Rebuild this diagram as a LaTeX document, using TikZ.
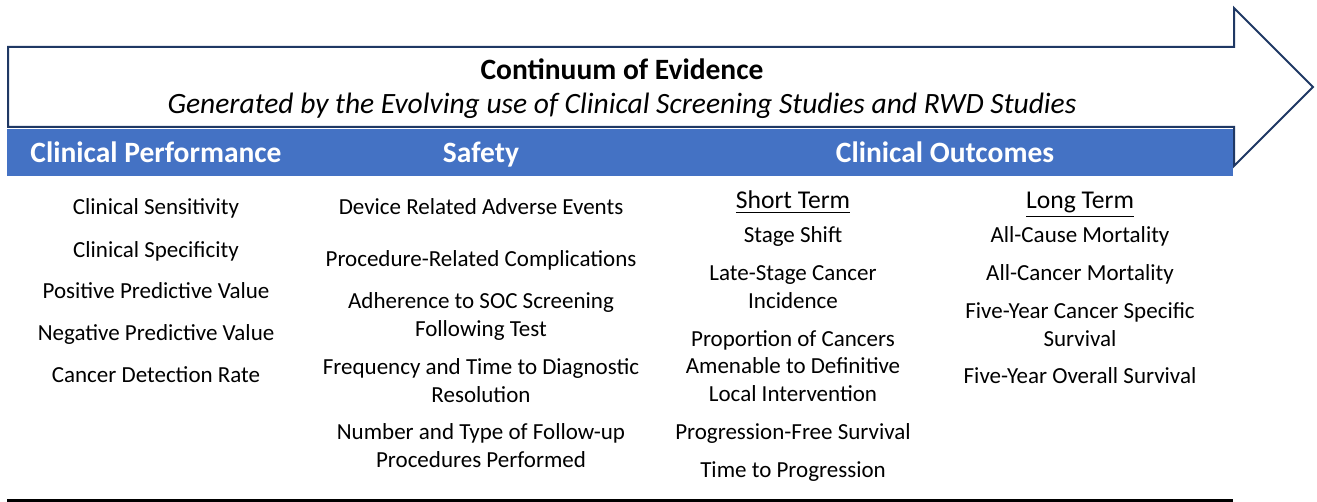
\documentclass[tikz,border=0pt]{standalone}
\usepackage{fontspec}
\setmainfont{Carlito}
\usetikzlibrary{positioning}
\definecolor{barblue}{HTML}{4472C4}
\definecolor{arrowline}{HTML}{1F3864}

\begin{document}
\begin{tikzpicture}[x=0.5pt,y=-0.5pt,
    item/.style={anchor=base,align=center,inner sep=0pt,
                 font=\fontsize{11.5}{13.75}\selectfont},
    term/.style={anchor=base,inner sep=0pt,
                 font=\fontsize{12.8}{15}\selectfont},
    head/.style={anchor=base,inner sep=0pt,
                 font=\fontsize{14.75}{17}\selectfont\bfseries}]
  \useasboundingbox (0,0) rectangle (1317,502);
  % big arrow with the header bar under it
  \draw[arrowline,line width=1pt,fill=white,line join=miter]
    (8,47) -- (1234,47) -- (1234,8) -- (1313,87) -- (1234,166)
    -- (1234,127) -- (8,127) -- cycle;
  \fill[barblue] (7,129) rectangle (1233,176);
  \draw[line width=1.5pt] (7,500.5) -- (1233,500.5);
  \node[head] (title) at (622,80) {Continuum of Evidence};
  \node[head,font=\fontsize{14.75}{17}\selectfont\itshape] (sub) at (622,114)
    {Generated by the Evolving use of Clinical Screening Studies and RWD Studies};
  \node[head,text=white] (perf) at (156,163) {Clinical Performance};
  \node[head,text=white] (safe) at (481,163) {Safety};
  \node[head,text=white] (outc) at (945,163) {Clinical Outcomes};
  % clinical performance (base = last line)
  \node[item] (sens) at (156,215) {Clinical Sensitivity};
  \node[item] (spec) at (156,257) {Clinical Specificity};
  \node[item] (ppv) at (156,299) {Positive Predictive Value};
  \node[item] (npv) at (156,340) {Negative Predictive Value};
  \node[item] (cdr) at (156,382) {Cancer Detection Rate};
  % safety
  \node[item] (dev) at (481,215) {Device Related Adverse Events};
  \node[item] (proc) at (481,267) {Procedure-Related Complications};
  \node[item] (adh) at (481,336) {Adherence to SOC Screening\\Following Test};
  \node[item] (freq) at (481,402) {Frequency and Time to Diagnostic\\Resolution};
  \node[item] (num) at (481,467) {Number and Type of Follow-up\\Procedures Performed};
  % outcomes, short term
  \node[term] (short) at (793,209) {\underline{Short Term}};
  \node[item] (stage) at (793,243) {Stage Shift};
  \node[item] (late) at (793,308) {Late-Stage Cancer\\Incidence};
  \node[item] (prop) at (793,401) {Proportion of Cancers\\Amenable to Definitive\\Local Intervention};
  \node[item] (pfs) at (793,439) {Progression-Free Survival};
  \node[item] (ttp) at (793,477) {Time to Progression};
  % outcomes, long term
  \node[term] (long) at (1080,209) {\underline{Long Term}};
  \node[item] (acm) at (1080,243) {All-Cause Mortality};
  \node[item] (ccm) at (1080,281) {All-Cancer Mortality};
  \node[item] (css) at (1080,346) {Five-Year Cancer Specific\\Survival};
  \node[item] (os) at (1080,383) {Five-Year Overall Survival};
\end{tikzpicture}
\end{document}
